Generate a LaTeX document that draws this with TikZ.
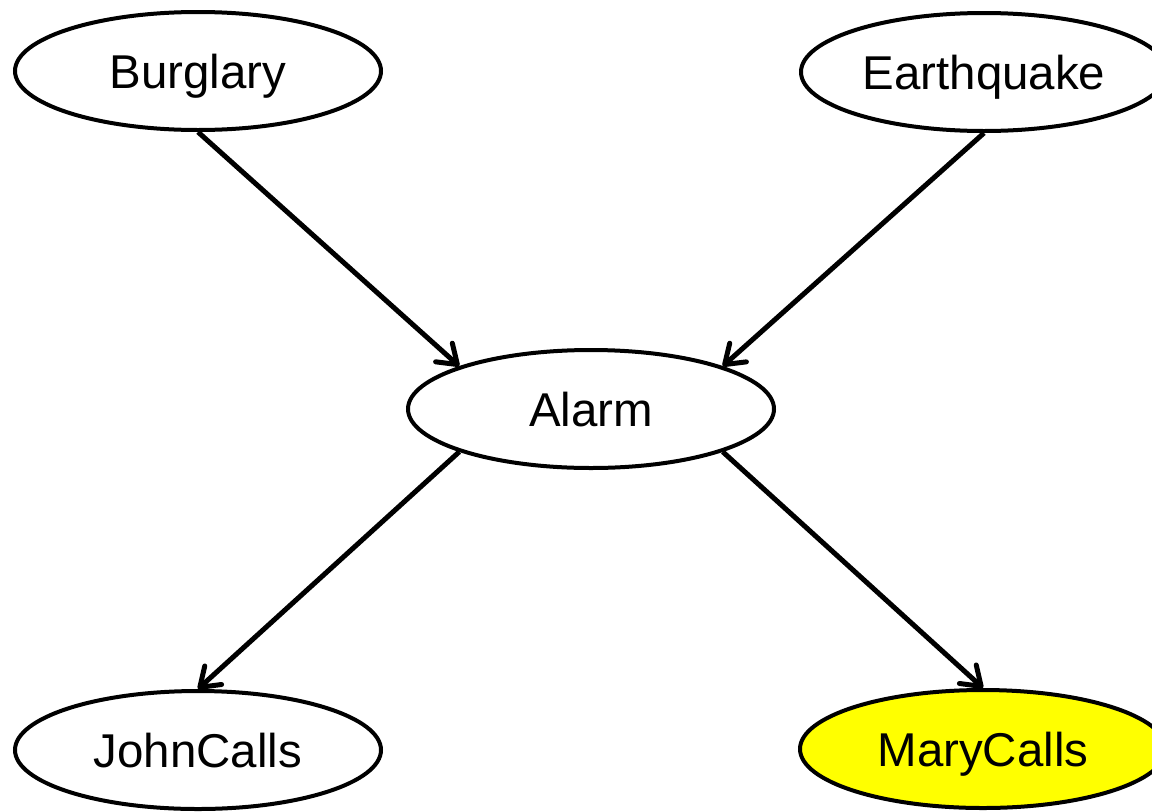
\documentclass[tikz,border=0pt]{standalone}
\usepackage{fontspec}
\setmainfont{Liberation Sans}
\usetikzlibrary{shapes.geometric, arrows.meta}
\definecolor{evidenceyellow}{RGB}{255,255,0}
\tikzstyle{chance} = [ellipse, draw, line width=0.08cm, minimum width=7.32cm, minimum height=2.36cm, inner sep=0pt, text centered, text depth=0pt, font=\fontsize{27}{32}\selectfont]
\tikzstyle{evidence} = [chance, fill=evidenceyellow]
\tikzstyle{arrow} = [line width=0.1cm, -{Straight Barb[length=0.36cm, width=0.5cm, round]}]

\begin{document}
\begin{tikzpicture}
    \useasboundingbox (0,0) rectangle (23.04,-16.22);
    \node [chance] at (3.96,-1.42) (burglary) {Burglary};
    \node [chance] at (19.68,-1.44) (earthquake) {Earthquake};
    \node [chance] at (11.82,-8.18) (alarm) {Alarm};
    \node [chance] at (3.96,-15.0) (johncalls) {JohnCalls};
    \node [evidence] at (19.66,-14.98) (marycalls) {MaryCalls};

    \draw [arrow] (burglary.south) -- (alarm.162);
    \draw [arrow] (earthquake.south) -- (alarm.18);
    \draw [arrow] (alarm.198) -- (johncalls.north);
    \draw [arrow] (alarm.-18) -- (marycalls.north);
\end{tikzpicture}
\end{document}
